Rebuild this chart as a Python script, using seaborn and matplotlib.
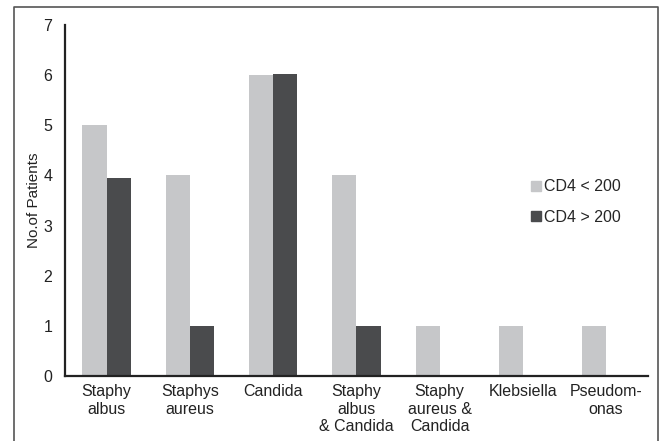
import pandas as pd
import matplotlib.pyplot as plt
import seaborn as sns
from matplotlib.lines import Line2D

# данные с графика
categories = ['Staphy\nalbus', 'Staphys\naureus', 'Candida', 'Staphy\nalbus\n& Candida',
              'Staphy\naureus &\nCandida', 'Klebsiella', 'Pseudom-\nonas']
cd4_low = [5, 4, 6, 4, 1, 1, 1]
cd4_high = [3.95, 1, 6.02, 1, 0, 0, 0]
groups = ['CD4 < 200', 'CD4 > 200']

df = pd.DataFrame({
    'cat': categories * 2,
    'val': cd4_low + cd4_high,
    'grp': [groups[0]] * len(categories) + [groups[1]] * len(categories),
})

sns.set_style('white')
plt.rcParams['font.family'] = ['Liberation Sans', 'DejaVu Sans']

fig = plt.figure(figsize=(6.59, 4.41), dpi=100)
ax = fig.add_axes([0.0986, 0.1474, 0.8844, 0.7959])

colors = {'CD4 < 200': '#c6c7c9', 'CD4 > 200': '#4a4b4d'}
sns.barplot(data=df, x='cat', y='val', hue='grp', palette=colors, width=0.58,
            ax=ax, legend=False, saturation=1, linewidth=0, edgecolor='none')

ax.set_ylim(0, 7)
ax.set_xlim(-0.5, len(categories) - 0.5)
ax.set_yticks(range(8))
ax.tick_params(axis='y', length=0, labelsize=11.5, colors='#222222', pad=9)
ax.tick_params(axis='x', length=0, labelsize=11.5, colors='#222222', pad=6)
ax.set_xlabel('')
ax.set_ylabel('No.of Patients', fontsize=11, color='#222222', labelpad=2)
for s in ['top', 'right']:
    ax.spines[s].set_visible(False)
for s in ['left', 'bottom']:
    ax.spines[s].set_color('#222222')
    ax.spines[s].set_linewidth(1.6)

handles = [Line2D([], [], marker='s', linestyle='', markersize=6.5, color=colors[g]) for g in groups]
ax.legend(handles, groups, frameon=False, fontsize=11.5, loc='upper left',
          bbox_to_anchor=(514 / 659, 1 - 165 / 441), bbox_transform=fig.transFigure,
          handletextpad=0.0, labelspacing=0.95, handlelength=1.0)

# рамка вокруг рисунка (без нижней линии)
x0, x1, y1 = 13.5 / 659, 657.5 / 659, 1 - 6.5 / 441
fig.add_artist(Line2D([x0, x0, x1, x1], [0, y1, y1, 0], transform=fig.transFigure,
                      color='#555555', linewidth=1.2))

fig.savefig('out.png', dpi=100)
